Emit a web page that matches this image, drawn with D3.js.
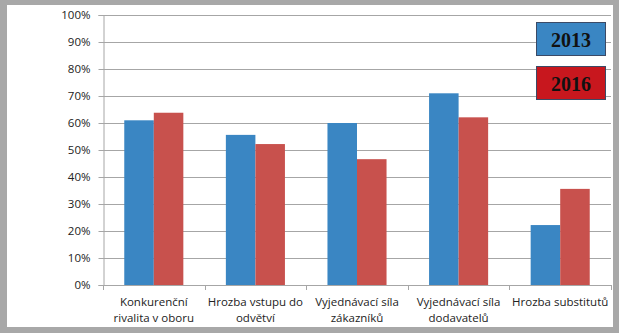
<!DOCTYPE html>
<html>
<head>
<meta charset="utf-8">
<script src="https://cdn.jsdelivr.net/npm/d3@7"></script>
<style>
  html, body { margin: 0; padding: 0; background: #fff; }
  svg { display: block; }
</style>
</head>
<body>
<svg id="chart" width="619" height="333"></svg>
<script>
// Porter's five forces – share of respondents, 2013 vs 2016
const categories = [
  ["Konkurenční", "rivalita v oboru"],
  ["Hrozba vstupu do", "odvětví"],
  ["Vyjednávací síla", "zákazníků"],
  ["Vyjednávací síla", "dodavatelů"],
  ["Hrozba substitutů"]
];
const seriesNames = ["2013", "2016"];
const values2013 = [0.61, 0.556, 0.60, 0.71, 0.222];
const values2016 = [0.638, 0.522, 0.466, 0.621, 0.356];
const yTicks = [0, 0.1, 0.2, 0.3, 0.4, 0.5, 0.6, 0.7, 0.8, 0.9, 1.0];

const barColors = ["#3a86c3", "#c8514d"];
const legendColors = ["#3a86c3", "#c8171e"];

const svg = d3.select("#chart");
const W = 619, H = 333;

// frame
svg.append("rect").attr("x", 0).attr("y", 0).attr("width", W).attr("height", H).attr("fill", "#a8a8a8");
svg.append("rect").attr("x", 7).attr("y", 5).attr("width", 606).attr("height", 322).attr("fill", "#fff");

const plot = { left: 103, right: 611, top: 15, bottom: 285 };

const x = d3.scaleBand()
  .domain(d3.range(categories.length))
  .range([plot.left, plot.right])
  .paddingInner(0)
  .paddingOuter(0);

const xSub = d3.scaleBand()
  .domain(seriesNames)
  .range([0, x.bandwidth()])
  .paddingInner(0)
  .paddingOuter(0.72);

const y = d3.scaleLinear().domain([0, 1]).range([plot.bottom, plot.top]);

const gridColor = "#a6a6a6";
const font = "'Open Sans', 'Liberation Sans', sans-serif";

// horizontal gridlines
svg.append("g")
  .selectAll("line")
  .data(yTicks.filter(d => d > 0))
  .join("line")
  .attr("x1", plot.left).attr("x2", plot.right)
  .attr("y1", d => Math.round(y(d)) + 0.5).attr("y2", d => Math.round(y(d)) + 0.5)
  .attr("stroke", gridColor).attr("stroke-width", 1);

// bars
const data = categories.map((c, i) => ({ i, vals: [values2013[i], values2016[i]] }));
const groups = svg.append("g").selectAll("g")
  .data(data)
  .join("g")
  .attr("transform", d => `translate(${x(d.i)},0)`);

groups.selectAll("rect")
  .data(d => d.vals.map((v, k) => ({ v, k })))
  .join("rect")
  .attr("x", d => xSub(seriesNames[d.k]))
  .attr("width", xSub.bandwidth())
  .attr("y", d => y(d.v))
  .attr("height", d => y(0) - y(d.v))
  .attr("fill", d => barColors[d.k]);

// y axis
const yAxis = d3.axisLeft(y)
  .tickValues(yTicks)
  .tickFormat(d => Math.round(d * 100) + "%")
  .tickSize(5)
  .tickPadding(8);
const gy = svg.append("g")
  .attr("transform", `translate(${plot.left + 0.5},0)`)
  .call(yAxis);
gy.select(".domain").attr("stroke", gridColor);
gy.selectAll(".tick line").attr("stroke", gridColor);
gy.selectAll(".tick text")
  .attr("fill", "#222")
  .style("font-family", font)
  .style("font-size", "11.5px");

// x axis (ticks at band boundaries)
svg.append("line")
  .attr("x1", plot.left).attr("x2", plot.right)
  .attr("y1", plot.bottom + 0.5).attr("y2", plot.bottom + 0.5)
  .attr("stroke", gridColor);
const bounds = d3.range(categories.length + 1).map(i => i < categories.length ? x(i) : plot.right);
svg.append("g").selectAll("line")
  .data(bounds)
  .join("line")
  .attr("x1", d => Math.round(d) + 0.5).attr("x2", d => Math.round(d) + 0.5)
  .attr("y1", plot.bottom).attr("y2", plot.bottom + 5)
  .attr("stroke", gridColor);

// category labels
const labels = svg.append("g").selectAll("text")
  .data(categories)
  .join("text")
  .attr("x", (d, i) => x(i) + x.bandwidth() / 2)
  .attr("y", 306)
  .attr("text-anchor", "middle")
  .attr("fill", "#222")
  .style("font-family", font)
  .style("font-size", "11.5px");
labels.selectAll("tspan")
  .data(d => d)
  .join("tspan")
  .attr("x", function () { return d3.select(this.parentNode).attr("x"); })
  .attr("dy", (d, j) => j === 0 ? 0 : 16)
  .text(d => d);

// legend boxes
const legend = svg.append("g").selectAll("g")
  .data(seriesNames)
  .join("g")
  .attr("transform", (d, i) => `translate(536.5,${22.5 + i * 44})`);
legend.append("rect")
  .attr("width", 69).attr("height", 33)
  .attr("fill", (d, i) => legendColors[i])
  .attr("stroke", "#3b4a66").attr("stroke-width", 1);
legend.append("text")
  .attr("x", 34.5).attr("y", 24)
  .attr("text-anchor", "middle")
  .attr("fill", "#111")
  .style("font-family", "'Liberation Serif', 'DejaVu Serif', serif")
  .style("font-weight", "bold")
  .style("font-size", "20px")
  .text(d => d);
</script>
</body>
</html>
